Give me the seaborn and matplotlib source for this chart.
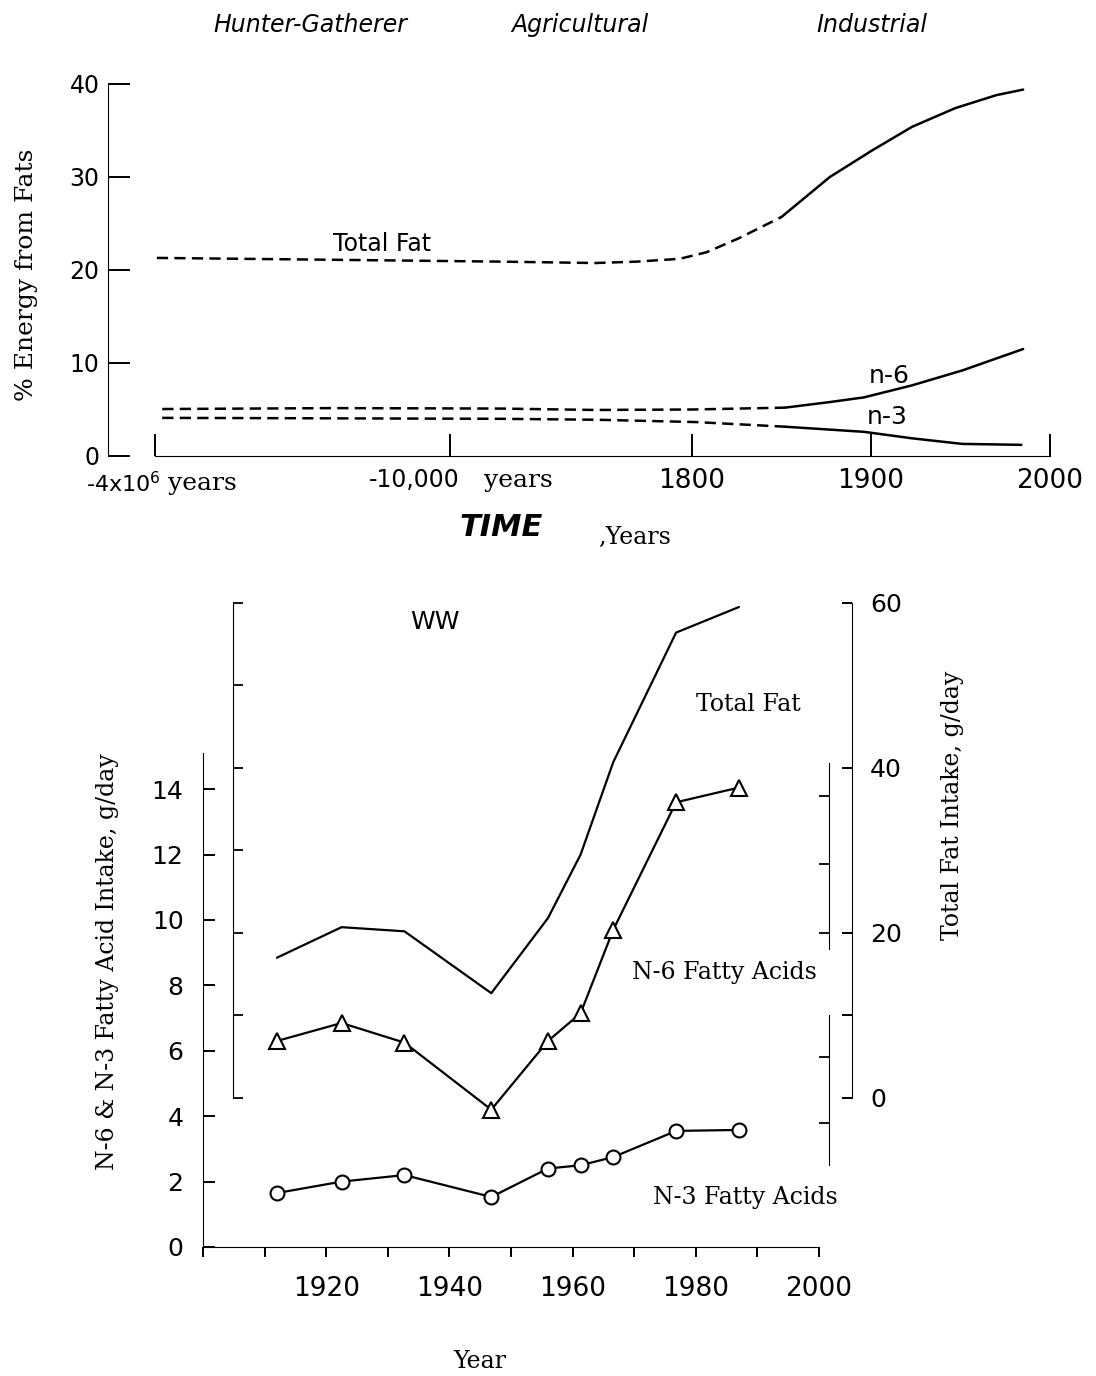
import numpy as np
import seaborn as sns
import matplotlib.pyplot as plt

# ---- top panel: points on the chart's own time scale
# (1500 = -4x10^6 years, 1665 = -10,000 years, then calendar years)
era_ticks = [1500, 1665, 1800, 1900, 2000]
era_tick_labels = ["", "", "1800", "1900", "2000"]
eras = ["Hunter-Gatherer", "Agricultural", "Industrial"]

tf_early_x = [1501, 1599, 1693, 1746, 1769, 1793, 1808, 1826, 1850]
tf_early_y = [21.3, 21.1, 20.9, 20.75, 20.9, 21.2, 21.9, 23.4, 25.7]
tf_late_x = [1850, 1877, 1901, 1923, 1947, 1970, 1985]
tf_late_y = [25.7, 30.0, 32.9, 35.4, 37.4, 38.8, 39.4]

n6_early_x = [1504, 1600, 1693, 1746, 1800, 1852]
n6_early_y = [5.05, 5.15, 5.1, 4.95, 5.0, 5.2]
n6_late_x = [1852, 1877, 1896, 1923, 1951, 1985]
n6_late_y = [5.2, 5.8, 6.3, 7.6, 9.2, 11.5]

n3_early_x = [1504, 1600, 1693, 1746, 1802, 1852]
n3_early_y = [4.1, 4.05, 4.0, 3.9, 3.65, 3.15]
n3_late_x = [1852, 1896, 1923, 1951, 1984]
n3_late_y = [3.15, 2.6, 1.9, 1.3, 1.2]

# ---- bottom panel (WW)
years = [1912, 1922.5, 1932.7, 1946.8, 1956, 1961.3, 1966.6, 1976.8, 1987]
total_fat = [17.0, 20.7, 20.2, 12.7, 21.8, 29.5, 40.7, 56.4, 59.5]   # g/day, right axis
n6_fa = [6.3, 6.85, 6.25, 4.2, 6.3, 7.15, 9.7, 13.6, 14.05]        # g/day, left axis
n3_fa = [1.65, 2.0, 2.2, 1.53, 2.4, 2.5, 2.75, 3.55, 3.58]

sns.set_style("ticks", rc={"axes.edgecolor": "black", "xtick.color": "black",
                           "ytick.color": "black", "text.color": "black",
                           "axes.linewidth": 1.4})
plt.rcParams["font.family"] = ["DejaVu Sans"]

W, H = 1096, 1376
def fx(px):
    return px / W
def fy(py):
    return 1 - py / H

SERIF = "DejaVu Serif"
fig = plt.figure(figsize=(W / 100, H / 100), dpi=100)

# ================= top panel =================
ax = fig.add_axes([fx(108), fy(456), (1060 - 108) / W, (456 - 84) / H])
dash = (0, (4.5, 2.5))
for xs, ys in [(tf_early_x, tf_early_y), (n6_early_x, n6_early_y), (n3_early_x, n3_early_y)]:
    sns.lineplot(x=xs, y=ys, ax=ax, color="black", lw=1.8, linestyle=dash)
for xs, ys in [(tf_late_x, tf_late_y), (n6_late_x, n6_late_y), (n3_late_x, n3_late_y)]:
    sns.lineplot(x=xs, y=ys, ax=ax, color="black", lw=1.8)

ax.set_xlim(1473.7, 2005.6)
ax.set_ylim(0, 40)
ax.spines["top"].set_visible(False)
ax.spines["right"].set_visible(False)
ax.spines["left"].set_bounds(0, 40)
ax.spines["bottom"].set_bounds(1500, 2000)
ax.set_yticks([0, 10, 20, 30, 40])
ax.set_xticks(era_ticks)
ax.set_xticklabels(era_tick_labels)
ax.tick_params(axis="y", direction="in", length=15.8, width=1.4, labelsize=17, pad=6)
ax.tick_params(axis="x", direction="in", length=15.8, width=1.4, labelsize=19, pad=9)

ax.text(1503, -3.0, "-4x10$^6$", ha="right", va="center", fontsize=16)
ax.text(1507, -3.0, "years", ha="left", va="center", fontsize=18, family=SERIF)
ax.text(1670, -2.6, "-10,000", ha="right", va="center", fontsize=17)
ax.text(1684, -2.6, "years", ha="left", va="center", fontsize=18, family=SERIF)

ax.text(1627, 22.8, "Total Fat", ha="center", va="center", fontsize=17)
ax.text(1910, 8.6, "n-6", ha="center", va="center", fontsize=18)
ax.text(1909, 4.2, "n-3", ha="center", va="center", fontsize=18)

for name, px in zip(eras, [310, 580, 872]):
    fig.text(fx(px), fy(25), name, ha="center", va="center", fontsize=17, style="italic")

fig.text(fx(27), fy(275), "% Energy from Fats", rotation=90, ha="center", va="center",
         fontsize=18, family=SERIF)
fig.text(fx(501), fy(527), "TIME", ha="center", va="center", fontsize=22,
         style="italic", weight="bold")
fig.text(fx(635), fy(537), ",Years", ha="center", va="center", fontsize=17, family=SERIF)

# ================= bottom panel =================
bx = fig.add_axes([fx(203), fy(1247), 616 / W, (1247 - 593) / H])
sns.lineplot(x=years, y=n6_fa, ax=bx, color="black", lw=1.6, marker="^", markersize=11,
             markerfacecolor="white", markeredgecolor="black", markeredgewidth=1.5)
sns.lineplot(x=years, y=n3_fa, ax=bx, color="black", lw=1.6, marker="o", markersize=10,
             markerfacecolor="white", markeredgecolor="black", markeredgewidth=1.5)
bx.set_xlim(1900, 2000)
bx.set_ylim(0, 20)
bx.spines["top"].set_visible(False)
bx.spines["right"].set_visible(False)
bx.spines["left"].set_bounds(0, 15.1)
bx.spines["bottom"].set_bounds(1900, 2000)
bx.set_yticks(range(0, 15, 2))
bx.set_xticks([1920, 1940, 1960, 1980, 2000])
bx.set_xticks([1900, 1910, 1930, 1950, 1970, 1990], minor=True)
bx.tick_params(axis="y", direction="in", length=8.6, width=1.4, labelsize=18, pad=14)
bx.tick_params(axis="x", which="both", direction="out", length=7, width=1.4,
               labelsize=19, pad=14)

tf_lim = (-18.06, 61.2)
# total-fat axis on the right
bx2 = bx.twinx()
sns.lineplot(x=years, y=total_fat, ax=bx2, color="black", lw=1.6)
bx2.set_ylim(*tf_lim)
for s in ["left", "top", "bottom"]:
    bx2.spines[s].set_visible(False)
bx2.spines["right"].set_position(("axes", (852 - 203) / 616))
bx2.spines["right"].set_bounds(0, 60)
bx2.set_yticks([0, 20, 40, 60])
bx2.set_yticks([10], minor=True)
bx2.tick_params(axis="y", which="both", direction="in", length=7, width=1.4,
                labelsize=18, pad=13)

# stray copy of the total-fat scale inside the plot
bx3 = bx.twinx()
bx3.set_ylim(*tf_lim)
for s in ["right", "top", "bottom"]:
    bx3.spines[s].set_visible(False)
bx3.spines["left"].set_visible(True)
bx3.spines["left"].set_position(("axes", (233 - 203) / 616))
bx3.spines["left"].set_bounds(0, 60)
bx3.yaxis.set_ticks_position("left")
bx3.set_yticks(range(0, 61, 10))
bx3.tick_params(axis="y", direction="in", length=7, width=1.3, labelleft=False, labelright=False)

# broken pieces of the left scale near the right edge
for lo, hi, tks in [(9.1, 14.8, [9.6, 11.7, 13.8]), (2.5, 7.1, [3.8, 5.8])]:
    bf = bx.twinx()
    bf.set_ylim(0, 20)
    for s in ["right", "top", "bottom"]:
        bf.spines[s].set_visible(False)
    bf.spines["left"].set_visible(True)
    bf.spines["left"].set_position(("axes", (829 - 203) / 616))
    bf.spines["left"].set_bounds(lo, hi)
    bf.yaxis.set_ticks_position("left")
    bf.set_yticks(tks)
    bf.tick_params(axis="y", direction="out", length=7, width=1.3, labelleft=False,
                   labelright=False)

bx.text(1937.7, 19.1, "WW", ha="center", va="center", fontsize=18)
bx.text(1988.6, 16.6, "Total Fat", ha="center", va="center", fontsize=17, family=SERIF)
bx.text(1984.7, 8.4, "N-6 Fatty Acids", ha="center", va="center", fontsize=17, family=SERIF)
bx.text(1988.1, 1.5, "N-3 Fatty Acids", ha="center", va="center", fontsize=17, family=SERIF)

fig.text(fx(108), fy(962), "N-6 & N-3 Fatty Acid Intake, g/day", rotation=90,
         ha="center", va="center", fontsize=17, family=SERIF)
fig.text(fx(952), fy(805), "Total Fat Intake, g/day", rotation=90,
         ha="center", va="center", fontsize=17, family=SERIF)
fig.text(fx(480), fy(1362), "Year", ha="center", va="center", fontsize=17, family=SERIF)

fig.savefig("out.png", dpi=100)
